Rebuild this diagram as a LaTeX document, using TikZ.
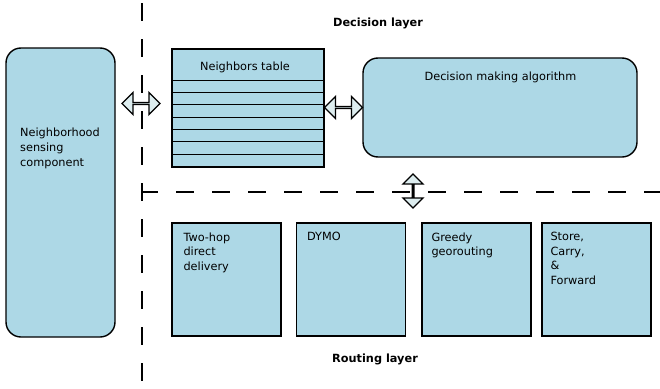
\documentclass[tikz,border=0pt]{standalone}
\usepackage{fontspec}
\setmainfont{DejaVu Sans}
\usepackage{tikz}
\usetikzlibrary{positioning,calc,shapes.arrows}
\usepackage{xcolor}
\definecolor{boxblue}{HTML}{ADD8E6}
\definecolor{arrowfill}{HTML}{DDEDEF}
\newcommand{\diagfont}{\fontsize{11.3}{14.5}\selectfont}

\tikzset{
  panel/.style={draw, line width=1.4pt, fill=boxblue, rounded corners=15pt, inner sep=0pt},
  tbox/.style={draw, line width=1.4pt, fill=boxblue, inner sep=0pt},
  boxtext/.style={anchor=north west, inner sep=0pt, align=left},
  dbl/.style={double arrow, draw, line width=1.3pt, fill=arrowfill, inner sep=0pt,
    minimum width=22pt, double arrow head extend=7pt, minimum height=38pt},
  layer/.style={font=\diagfont\bfseries, inner sep=0pt},
  sep/.style={line width=1.1pt, dash pattern=on 18pt off 18pt},
}

\begin{document}
\begin{tikzpicture}[x=1pt, y=-1pt, font=\diagfont]
  \useasboundingbox (0,0) rectangle (660,388);
  % layer separators
  \coordinate (vtop) at (142,3);
  \coordinate (vbot) at (142,383);
  \coordinate (hleft) at (142,192);
  \coordinate (hright) at (660,192);
  \draw[sep] (vtop) -- (vbot);
  \draw[sep, dash phase=2pt] (hleft) -- (hright);
  % LEFT: sensing component
  \node[panel, minimum width=109pt, minimum height=289pt] (sense) at (60.5,192.5) {};
  \node[boxtext, font=\fontsize{11.3}{15}\selectfont] (sensetxt) at (20,128)
    {Neighborhood\\sensing\\component};
  % TOP: neighbors table with its rows
  \node[tbox, minimum width=152pt, minimum height=118pt] (table) at (248,108) {};
  \node[inner sep=0pt] (tabletxt) at (245,67) {Neighbors table};
  \foreach \k in {0,...,6}
    \draw[line width=1.1pt] ($(table.north west)+(0,32+12.3*\k)$) -- ($(table.north east)+(0,32+12.3*\k)$);
  % TOP: decision box
  \node[panel, minimum width=274pt, minimum height=99pt] (decide) at (500,107.5) {};
  \node[inner sep=0pt] (decidetxt) at (500.5,77) {Decision making algorithm};
  % double arrows between the parts
  \node[dbl] (arrsense) at (141,103.5) {};
  \node[dbl] (arrtable) at (343.5,107.5) {};
  \node[dbl, minimum width=20pt, minimum height=34pt, shape border rotate=90] (arrlayer) at (413,191) {};
  % BOTTOM: routing protocols
  \node[tbox, minimum width=109pt, minimum height=113pt] (twohop) at (226.5,279.5) {};
  \node[tbox, minimum width=109pt, minimum height=113pt] (dymo) at (351,279.5) {};
  \node[tbox, minimum width=109pt, minimum height=113pt] (greedy) at (476.5,279.5) {};
  \node[tbox, minimum width=109pt, minimum height=113pt] (store) at (596.5,279.5) {};
  \node[boxtext] (twohoptxt) at ([shift={(12,10)}]twohop.north west) {Two-hop\\direct\\delivery};
  \node[boxtext] (dymotxt) at ([shift={(11,10)}]dymo.north west) {DYMO};
  \node[boxtext] (greedytxt) at ([shift={(10,10)}]greedy.north west) {Greedy\\georouting};
  \node[boxtext] (storetxt) at ([shift={(9,10)}]store.north west) {Store,\\Carry,\\\&\\Forward};
  % layer titles
  \node[layer] (declayer) at (378,23) {Decision layer};
  \node[layer] (routlayer) at (375,359) {Routing layer};
\end{tikzpicture}
\end{document}
